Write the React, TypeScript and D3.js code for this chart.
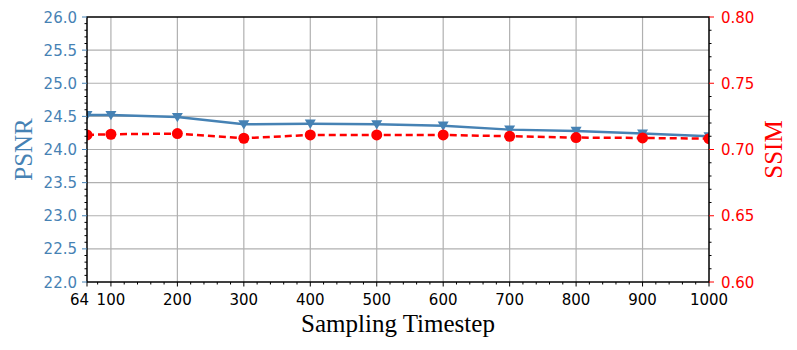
import React from "react";
import * as d3 from "d3";

const steps = [64, 100, 200, 300, 400, 500, 600, 700, 800, 900, 1000];
const psnr = [24.52, 24.52, 24.49, 24.38, 24.39, 24.38, 24.36, 24.3, 24.28, 24.24, 24.2];
const ssim = [0.711, 0.7115, 0.712, 0.7085, 0.711, 0.711, 0.711, 0.71, 0.709, 0.7087, 0.7082];
const xTickVals = [64, 100, 200, 300, 400, 500, 600, 700, 800, 900, 1000];
const leftTicks = [22.0, 22.5, 23.0, 23.5, 24.0, 24.5, 25.0, 25.5, 26.0];
const rightTicks = [0.6, 0.65, 0.7, 0.75, 0.8];

const W = 797, H = 350;
const L = 87, R = 709, T = 17, B = 282;
const BLUE = "#4682b4";
const RED = "#ff0000";
const TICKFONT = "DejaVu Sans";
const TFS = 15;

export default function App() {
  const x = d3.scaleLinear().domain([64, 1000]).range([L, R]);
  const yL = d3.scaleLinear().domain([22, 26]).range([B, T]);
  const yR = d3.scaleLinear().domain([0.6, 0.8]).range([B, T]);

  const xMinor = d3.range(80, 1000, 20).filter((v) => v % 100 !== 0);
  const yLMinor = d3.range(221, 260, 1).map((v) => v / 10).filter((v) => Math.abs(v * 2 - Math.round(v * 2)) > 1e-6);
  const yRMinor = d3.range(61, 80, 1).map((v) => v / 100).filter((v) => Math.abs(v * 20 - Math.round(v * 20)) > 1e-6);

  const lineP = d3.line<number>().x((_, i) => x(steps[i])).y((d) => yL(d))(psnr) || "";
  const lineS = d3.line<number>().x((_, i) => x(steps[i])).y((d) => yR(d))(ssim) || "";

  return (
    <svg width={W} height={H} style={{ position: "absolute", left: 0, top: 0 }}>
      <defs>
        <clipPath id="plotclip">
          <rect x={L} y={T} width={R - L} height={B - T} />
        </clipPath>
      </defs>
      <rect x={0} y={0} width={W} height={H} fill="white" />
      {/* grid */}
      {xTickVals.filter((v) => v !== 64 && v !== 1000).map((v) => (
        <line key={"gx" + v} x1={x(v)} x2={x(v)} y1={T} y2={B} stroke="#b0b0b0" strokeWidth={1.2} />
      ))}
      {leftTicks.filter((v) => v !== 22 && v !== 26).map((v) => (
        <line key={"gy" + v} x1={L} x2={R} y1={yL(v)} y2={yL(v)} stroke="#b0b0b0" strokeWidth={1.2} />
      ))}
      {/* series */}
      <g clipPath="url(#plotclip)">
        <path d={lineP} fill="none" stroke={BLUE} strokeWidth={2.5} />
        {psnr.map((v, i) => {
          const cx = x(steps[i]);
          const cy = yL(v);
          const s = 5.5;
          return (
            <path key={"tp" + i} d={`M${cx - s},${cy - s * 0.75}L${cx + s},${cy - s * 0.75}L${cx},${cy + s * 0.95}Z`} fill={BLUE} />
          );
        })}
        <path d={lineS} fill="none" stroke={RED} strokeWidth={2.5} strokeDasharray="7,4" />
        {ssim.map((v, i) => (
          <circle key={"cs" + i} cx={x(steps[i])} cy={yR(v)} r={5.5} fill={RED} />
        ))}
      </g>
      {/* frame */}
      <rect x={L} y={T} width={R - L} height={B - T} fill="none" stroke="black" strokeWidth={1.5} />
      {/* x ticks */}
      {xMinor.map((v) => (
        <line key={"xm" + v} x1={x(v)} x2={x(v)} y1={B} y2={B + 2.5} stroke="black" strokeWidth={1} />
      ))}
      {xTickVals.map((v) => (
        <g key={"xt" + v}>
          <line x1={x(v)} x2={x(v)} y1={B} y2={B + 4.5} stroke="black" strokeWidth={1} />
          <text
            x={v === 64 ? x(v) + 2 : x(v)}
            y={B + 23}
            textAnchor={v === 64 ? "end" : "middle"}
            fontFamily={TICKFONT}
            fontSize={TFS}
            fill="black"
          >
            {v}
          </text>
        </g>
      ))}
      {/* left ticks */}
      {yLMinor.map((v) => (
        <line key={"lm" + v} x1={L - 2.5} x2={L} y1={yL(v)} y2={yL(v)} stroke="black" strokeWidth={1} />
      ))}
      {leftTicks.map((v) => (
        <g key={"lt" + v}>
          <line x1={L - 5} x2={L} y1={yL(v)} y2={yL(v)} stroke={BLUE} strokeWidth={1} />
          <text x={L - 10} y={yL(v) + 5.5} textAnchor="end" fontFamily={TICKFONT} fontSize={TFS} fill={BLUE}>
            {v.toFixed(1)}
          </text>
        </g>
      ))}
      {/* right ticks */}
      {yRMinor.map((v) => (
        <line key={"rm" + v} x1={R} x2={R + 2.5} y1={yR(v)} y2={yR(v)} stroke="black" strokeWidth={1} />
      ))}
      {rightTicks.map((v) => (
        <g key={"rt" + v}>
          <line x1={R} x2={R + 5} y1={yR(v)} y2={yR(v)} stroke={RED} strokeWidth={1} />
          <text x={R + 12} y={yR(v) + 5.5} textAnchor="start" fontFamily={TICKFONT} fontSize={TFS} fill={RED}>
            {v.toFixed(2)}
          </text>
        </g>
      ))}
      {/* titles */}
      <text x={(L + R) / 2} y={332} textAnchor="middle" fontFamily="Liberation Serif" fontSize={25} fill="black">
        Sampling Timestep
      </text>
      <text transform={`translate(31.5,${(T + B) / 2}) rotate(-90)`} textAnchor="middle" fontFamily="Liberation Serif" fontSize={25} fill={BLUE}>
        PSNR
      </text>
      <text transform={`translate(782,${(T + B) / 2}) rotate(-90)`} textAnchor="middle" fontFamily="Liberation Serif" fontSize={25} fill={RED}>
        SSIM
      </text>
    </svg>
  );
}
